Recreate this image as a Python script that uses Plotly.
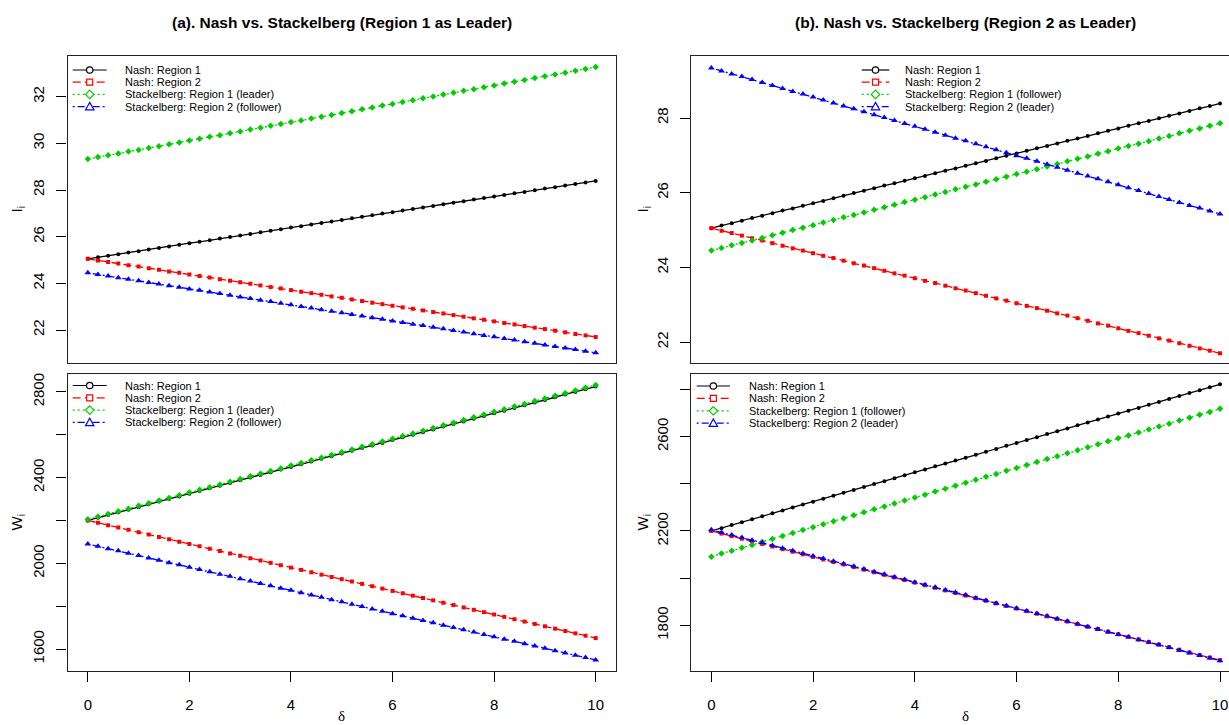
import plotly.graph_objects as go

W, H = 1229, 725

# ---------------- data ----------------
delta = [0.0, 0.2, 0.4, 0.6, 0.8, 1.0, 1.2, 1.4, 1.6, 1.8, 2.0, 2.2, 2.4, 2.6, 2.8, 3.0, 3.2, 3.4, 3.6, 3.8,
         4.0, 4.2, 4.4, 4.6, 4.8, 5.0, 5.2, 5.4, 5.6, 5.8, 6.0, 6.2, 6.4, 6.6, 6.8, 7.0, 7.2, 7.4, 7.6, 7.8,
         8.0, 8.2, 8.4, 8.6, 8.8, 9.0, 9.2, 9.4, 9.6, 9.8, 10.0]

# Panel (a): Region 1 as leader -- investment I_i
a_I_nash1 = [25.05, 25.12, 25.18, 25.25, 25.32, 25.38, 25.45, 25.52, 25.58, 25.65, 25.72, 25.78, 25.85, 25.92, 25.99,
             26.05, 26.12, 26.19, 26.25, 26.32, 26.39, 26.45, 26.52, 26.59, 26.65, 26.72, 26.79, 26.85, 26.92, 26.99,
             27.05, 27.12, 27.19, 27.25, 27.32, 27.39, 27.45, 27.52, 27.59, 27.66, 27.72, 27.79, 27.86, 27.92, 27.99,
             28.06, 28.12, 28.19, 28.26, 28.32, 28.39]
a_I_nash2 = [25.05, 24.98, 24.92, 24.85, 24.78, 24.72, 24.65, 24.58, 24.51, 24.45, 24.38, 24.31, 24.25, 24.18, 24.11,
             24.05, 23.98, 23.91, 23.84, 23.78, 23.71, 23.64, 23.58, 23.51, 23.44, 23.38, 23.31, 23.24, 23.17, 23.11,
             23.04, 22.97, 22.91, 22.84, 22.77, 22.71, 22.64, 22.57, 22.50, 22.44, 22.37, 22.30, 22.24, 22.17, 22.10,
             22.04, 21.97, 21.90, 21.83, 21.77, 21.70]
a_I_stack1 = [29.33, 29.41, 29.49, 29.57, 29.65, 29.72, 29.80, 29.88, 29.96, 30.04, 30.12, 30.20, 30.28, 30.35, 30.43,
              30.51, 30.59, 30.67, 30.75, 30.83, 30.91, 30.98, 31.06, 31.14, 31.22, 31.30, 31.38, 31.46, 31.54, 31.62,
              31.69, 31.77, 31.85, 31.93, 32.01, 32.09, 32.17, 32.25, 32.32, 32.40, 32.48, 32.56, 32.64, 32.72, 32.80,
              32.88, 32.95, 33.03, 33.11, 33.19, 33.27]
a_I_stack2 = [24.45, 24.38, 24.31, 24.24, 24.18, 24.11, 24.04, 23.97, 23.90, 23.83, 23.76, 23.70, 23.63, 23.56, 23.49,
              23.42, 23.35, 23.28, 23.22, 23.15, 23.08, 23.01, 22.94, 22.87, 22.80, 22.74, 22.67, 22.60, 22.53, 22.46,
              22.39, 22.32, 22.25, 22.19, 22.12, 22.05, 21.98, 21.91, 21.84, 21.77, 21.71, 21.64, 21.57, 21.50, 21.43,
              21.36, 21.29, 21.23, 21.16, 21.09, 21.02]

# Panel (a): welfare W_i
a_W_nash1 = [2200, 2212, 2225, 2238, 2250, 2262, 2275, 2288, 2300, 2312, 2325, 2338, 2350, 2362, 2375, 2388, 2400,
             2412, 2425, 2438, 2450, 2462, 2475, 2488, 2500, 2512, 2525, 2538, 2550, 2562, 2575, 2588, 2600, 2612,
             2625, 2638, 2650, 2662, 2675, 2688, 2700, 2712, 2725, 2738, 2750, 2762, 2775, 2788, 2800, 2812, 2825]
a_W_nash2 = [2200, 2189, 2178, 2167, 2156, 2145, 2134, 2123, 2112, 2101, 2090, 2079, 2068, 2057, 2046, 2035, 2024,
             2013, 2002, 1991, 1980, 1969, 1958, 1947, 1936, 1926, 1915, 1904, 1893, 1882, 1871, 1860, 1849, 1838,
             1827, 1816, 1805, 1794, 1783, 1772, 1761, 1750, 1739, 1728, 1717, 1706, 1695, 1684, 1673, 1662, 1651]
a_W_stack1 = [2205, 2218, 2230, 2243, 2255, 2268, 2280, 2293, 2305, 2318, 2330, 2343, 2355, 2368, 2381, 2393, 2406,
              2418, 2431, 2443, 2456, 2468, 2481, 2493, 2506, 2518, 2531, 2544, 2556, 2569, 2581, 2594, 2606, 2619,
              2631, 2644, 2656, 2669, 2682, 2694, 2707, 2719, 2732, 2744, 2757, 2769, 2782, 2794, 2807, 2819, 2832]
a_W_stack2 = [2090, 2079, 2068, 2058, 2047, 2036, 2025, 2014, 2003, 1993, 1982, 1971, 1960, 1949, 1939, 1928, 1917,
              1906, 1895, 1884, 1874, 1863, 1852, 1841, 1830, 1820, 1809, 1798, 1787, 1776, 1765, 1755, 1744, 1733,
              1722, 1711, 1700, 1690, 1679, 1668, 1657, 1646, 1636, 1625, 1614, 1603, 1592, 1581, 1571, 1560, 1549]

# Panel (b): Region 2 as leader -- investment I_i
b_I_nash1 = list(a_I_nash1)
b_I_nash2 = list(a_I_nash2)
b_I_stack1 = [24.45, 24.52, 24.59, 24.65, 24.72, 24.79, 24.86, 24.93, 25.00, 25.06, 25.13, 25.20, 25.27, 25.34, 25.40,
              25.47, 25.54, 25.61, 25.68, 25.75, 25.81, 25.88, 25.95, 26.02, 26.09, 26.16, 26.22, 26.29, 26.36, 26.43,
              26.50, 26.56, 26.63, 26.70, 26.77, 26.84, 26.91, 26.97, 27.04, 27.11, 27.18, 27.25, 27.31, 27.38, 27.45,
              27.52, 27.59, 27.66, 27.72, 27.79, 27.86]
b_I_stack2 = [29.34, 29.26, 29.18, 29.11, 29.03, 28.95, 28.87, 28.79, 28.71, 28.64, 28.56, 28.48, 28.40, 28.32, 28.25,
              28.17, 28.09, 28.01, 27.93, 27.85, 27.78, 27.70, 27.62, 27.54, 27.46, 27.39, 27.31, 27.23, 27.15, 27.07,
              26.99, 26.92, 26.84, 26.76, 26.68, 26.60, 26.52, 26.45, 26.37, 26.29, 26.21, 26.13, 26.06, 25.98, 25.90,
              25.82, 25.74, 25.66, 25.59, 25.51, 25.43]

# Panel (b): welfare W_i
b_W_nash1 = [2200, 2212, 2225, 2237, 2250, 2262, 2275, 2287, 2300, 2312, 2324, 2337, 2349, 2362, 2374, 2387, 2399,
             2411, 2424, 2436, 2449, 2461, 2474, 2486, 2499, 2511, 2523, 2536, 2548, 2561, 2573, 2586, 2598, 2611,
             2623, 2635, 2648, 2660, 2673, 2685, 2698, 2710, 2722, 2735, 2747, 2760, 2772, 2785, 2797, 2810, 2822]
b_W_nash2 = [2200, 2189, 2178, 2167, 2156, 2145, 2134, 2123, 2112, 2101, 2090, 2079, 2068, 2058, 2047, 2036, 2025,
             2014, 2003, 1992, 1981, 1970, 1959, 1948, 1937, 1926, 1915, 1904, 1893, 1882, 1871, 1860, 1849, 1838,
             1827, 1816, 1805, 1794, 1784, 1773, 1762, 1751, 1740, 1729, 1718, 1707, 1696, 1685, 1674, 1663, 1652]
b_W_stack1 = [2091, 2104, 2116, 2129, 2141, 2154, 2166, 2179, 2191, 2204, 2216, 2229, 2241, 2254, 2267, 2279, 2292,
              2304, 2317, 2329, 2342, 2354, 2367, 2379, 2392, 2404, 2417, 2430, 2442, 2455, 2467, 2480, 2492, 2505,
              2517, 2530, 2542, 2555, 2568, 2580, 2593, 2605, 2618, 2630, 2643, 2655, 2668, 2680, 2693, 2705, 2718]
b_W_stack2 = [2205, 2194, 2183, 2172, 2161, 2150, 2138, 2127, 2116, 2105, 2094, 2083, 2072, 2061, 2050, 2039, 2027,
              2016, 2005, 1994, 1983, 1972, 1961, 1950, 1939, 1928, 1916, 1905, 1894, 1883, 1872, 1861, 1850, 1839,
              1828, 1817, 1805, 1794, 1783, 1772, 1761, 1750, 1739, 1728, 1717, 1706, 1694, 1683, 1672, 1661, 1650]

x_ticks = [0, 2, 4, 6, 8, 10]
x_ticktext = ["0", "2", "4", "6", "8", "10"]
a_I_ticks = [22, 24, 26, 28, 30, 32]
a_I_ticktext = ["22", "24", "26", "28", "30", "32"]
a_W_ticks = [1600, 2000, 2400, 2800]
a_W_ticktext = ["1600", "2000", "2400", "2800"]
a_W_minor = [1800, 2200, 2600]
b_I_ticks = [22, 24, 26, 28]
b_I_ticktext = ["22", "24", "26", "28"]
b_W_ticks = [1800, 2200, 2600]
b_W_ticktext = ["1800", "2200", "2600"]
b_W_minor = [2000, 2400, 2800]

labels_a = ["Nash: Region 1", "Nash: Region 2", "Stackelberg: Region 1 (leader)", "Stackelberg: Region 2 (follower)"]
labels_b = ["Nash: Region 1", "Nash: Region 2", "Stackelberg: Region 1 (follower)", "Stackelberg: Region 2 (leader)"]
title_a = "<b>(a). Nash vs. Stackelberg (Region 1 as Leader)</b>"
title_b = "<b>(b). Nash vs. Stackelberg (Region 2 as Leader)</b>"

# ---------------- styles ----------------
SANS = "Liberation Sans, Arial, sans-serif"
SERIF = "Liberation Serif, Times New Roman, serif"
colors = ["#000000", "#FF0000", "#00CD00", "#0000FF"]
dashes = ["solid", "8px,4px", "2px,3px", "2px,3px,7px,3px"]
symbols = ["circle", "square", "diamond", "triangle-up"]
msizes = [4, 4, 5, 6]


def px(x):
    return x / W


def py(y):
    return 1 - y / H


fig = go.Figure()

panels = [
    ("x", "y", [a_I_nash1, a_I_nash2, a_I_stack1, a_I_stack2]),
    ("x2", "y2", [b_I_nash1, b_I_nash2, b_I_stack1, b_I_stack2]),
    ("x3", "y3", [a_W_nash1, a_W_nash2, a_W_stack1, a_W_stack2]),
    ("x4", "y4", [b_W_nash1, b_W_nash2, b_W_stack1, b_W_stack2]),
]
for xa, ya, series in panels:
    for i, s in enumerate(series):
        fig.add_trace(go.Scatter(
            x=delta, y=s, xaxis=xa, yaxis=ya, mode="lines+markers",
            line=dict(color=colors[i], width=1.3, dash=dashes[i]),
            marker=dict(symbol=symbols[i], size=msizes[i], color=colors[i], line=dict(width=0)),
            showlegend=False, hoverinfo="skip"))

# pixel geometry
LX = [67.5, 616.0]
RX = [691.0, 1229.0]
TY = [56.0, 363.0]
BY = [374.0, 671.0]
R_XRANGE = [-0.4, 10.177]

common_axis = dict(showgrid=False, zeroline=False, showline=True, linecolor="#222222", linewidth=1.2,
                   ticks="outside", ticklen=10, tickwidth=1, tickcolor="#000000",
                   tickfont=dict(family=SANS, size=15, color="#000000"))
minor_style = dict(ticks="outside", ticklen=10, tickwidth=1, tickcolor="#000000", showgrid=False)

layout = dict(
    width=W, height=H, autosize=False,
    margin=dict(l=0, r=0, t=0, b=0, pad=0),
    paper_bgcolor="white", plot_bgcolor="white",
    showlegend=False,
    xaxis=dict(common_axis, domain=[px(LX[0]), px(LX[1])], range=[-0.4, 10.4], anchor="y", mirror=True,
               ticks="", showticklabels=False),
    xaxis2=dict(common_axis, domain=[px(RX[0]), px(RX[1])], range=R_XRANGE, anchor="y2", mirror=True,
                ticks="", showticklabels=False),
    xaxis3=dict(common_axis, domain=[px(LX[0]), px(LX[1])], range=[-0.4, 10.4], anchor="y3", mirror=True,
                tickvals=x_ticks, ticktext=x_ticktext, ticklabelstandoff=10),
    xaxis4=dict(common_axis, domain=[px(RX[0]), px(RX[1])], range=R_XRANGE, anchor="y4", mirror=True,
                tickvals=x_ticks, ticktext=x_ticktext, ticklabelstandoff=10),
    yaxis=dict(common_axis, domain=[py(TY[1]), py(TY[0])], range=[20.586, 33.744], anchor="x", mirror=True,
               tickvals=a_I_ticks, ticktext=a_I_ticktext, tickangle=-90, ticklabelstandoff=6),
    yaxis2=dict(common_axis, domain=[py(TY[1]), py(TY[0])], range=[21.44, 29.66], anchor="x2", mirror=False,
                tickvals=b_I_ticks, ticktext=b_I_ticktext, tickangle=-90, ticklabelstandoff=6),
    yaxis3=dict(common_axis, domain=[py(BY[1]), py(BY[0])], range=[1497.3, 2883.5], anchor="x3", mirror=True,
                tickvals=a_W_ticks, ticktext=a_W_ticktext, tickangle=-90, ticklabelstandoff=6,
                minor=dict(minor_style, tickmode="array", tickvals=a_W_minor)),
    yaxis4=dict(common_axis, domain=[py(BY[1]), py(BY[0])], range=[1606.2, 2865.7], anchor="x4", mirror=False,
                tickvals=b_W_ticks, ticktext=b_W_ticktext, tickangle=-90, ticklabelstandoff=6,
                minor=dict(minor_style, tickmode="array", tickvals=b_W_minor)),
)
fig.update_layout(**layout)

annotations = []
shapes = []

# titles
annotations.append(dict(text=title_a, x=px(341.5), y=py(23), xref="paper", yref="paper", showarrow=False,
                        xanchor="center", yanchor="middle", font=dict(family=SANS, size=15.5, color="#000000")))
annotations.append(dict(text=title_b, x=px(965.5), y=py(23), xref="paper", yref="paper", showarrow=False,
                        xanchor="center", yanchor="middle", font=dict(family=SANS, size=15.5, color="#000000")))

# axis titles
for xc, yc, txt in [(17, 209.5, "I<sub>i</sub>"), (17, 522.5, "W<sub>i</sub>"),
                    (643, 209.5, "I<sub>i</sub>"), (643, 522.5, "W<sub>i</sub>")]:
    annotations.append(dict(text=txt, x=px(xc), y=py(yc), xref="paper", yref="paper", showarrow=False,
                            textangle=-90, xanchor="center", yanchor="middle",
                            font=dict(family=SANS, size=15, color="#000000")))
for xc in [341.5, 965.5]:
    annotations.append(dict(text="δ", x=px(xc), y=py(715.5), xref="paper", yref="paper", showarrow=False,
                            xanchor="center", yanchor="middle", font=dict(family=SERIF, size=15, color="#000000")))


def add_legend(x0, x1, xt, y_first, dy, labels):
    xm = (x0 + x1) / 2.0
    for i, lab in enumerate(labels):
        yy = y_first + i * dy
        shapes.append(dict(type="line", xref="paper", yref="paper", x0=px(x0), x1=px(x1), y0=py(yy), y1=py(yy),
                           line=dict(color=colors[i], width=1.2, dash=dashes[i])))
        c = colors[i]
        mk = dict(xref="paper", yref="paper", line=dict(color=c, width=1.2), fillcolor="white")
        if symbols[i] == "circle":
            r = 3.2
            shapes.append(dict(mk, type="circle", x0=px(xm - r), x1=px(xm + r), y0=py(yy + r), y1=py(yy - r)))
        elif symbols[i] == "square":
            r = 3.0
            shapes.append(dict(mk, type="rect", x0=px(xm - r), x1=px(xm + r), y0=py(yy + r), y1=py(yy - r)))
        elif symbols[i] == "diamond":
            r = 4.2
            path = "M {},{} L {},{} L {},{} L {},{} Z".format(px(xm), py(yy - r), px(xm + r), py(yy),
                                                              px(xm), py(yy + r), px(xm - r), py(yy))
            shapes.append(dict(mk, type="path", path=path))
        else:
            r = 4.2
            path = "M {},{} L {},{} L {},{} Z".format(px(xm), py(yy - r), px(xm + r), py(yy + 3.2),
                                                      px(xm - r), py(yy + 3.2))
            shapes.append(dict(mk, type="path", path=path))
        annotations.append(dict(text=lab, x=px(xt), y=py(yy), xref="paper", yref="paper", showarrow=False,
                                xanchor="left", yanchor="middle",
                                font=dict(family=SANS, size=11, color="#000000")))


add_legend(72.7, 106.7, 123.3, 70.0, 12.2, labels_a)
add_legend(72.7, 106.7, 123.3, 385.5, 12.3, labels_a)
add_legend(861.7, 889.3, 903.3, 70.0, 12.2, labels_b)
add_legend(696.7, 730.0, 747.3, 386.0, 12.4, labels_b)

fig.update_layout(annotations=annotations, shapes=shapes)
fig.write_html("out.html")
